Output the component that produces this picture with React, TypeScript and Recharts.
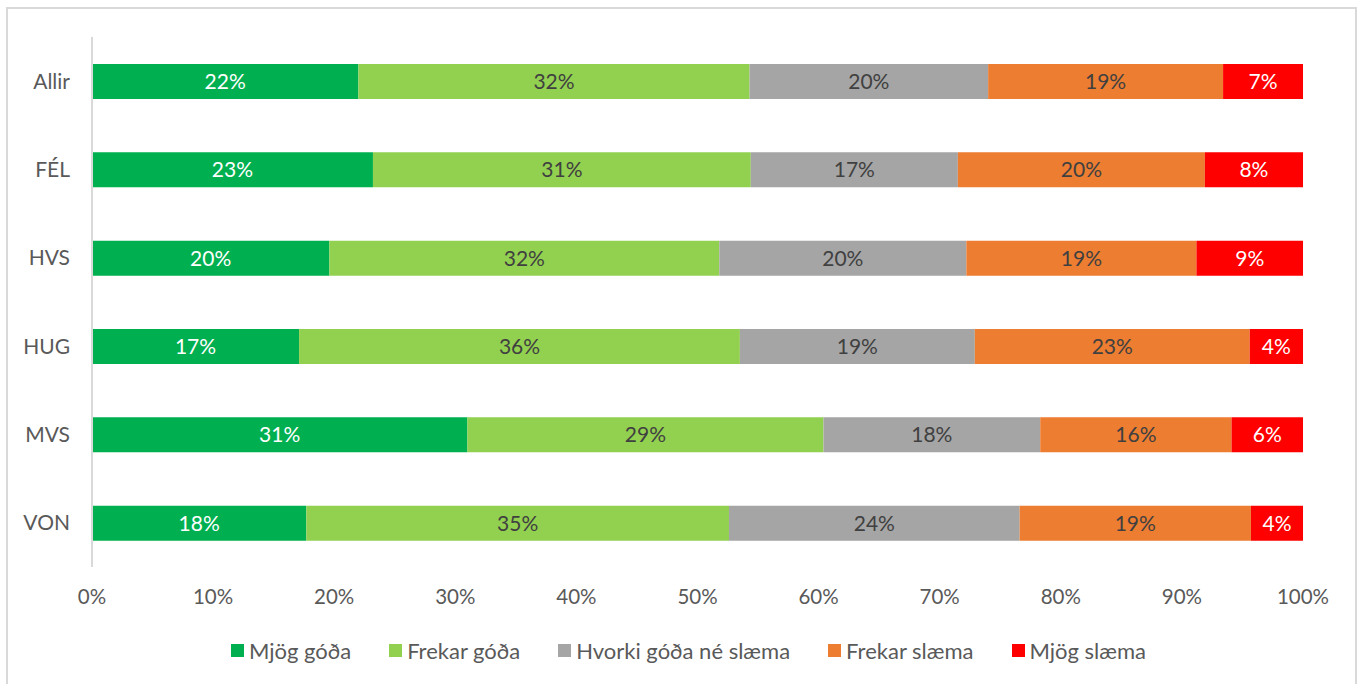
import React from 'react';
import { BarChart, Bar, XAxis, YAxis, Legend, LabelList } from 'recharts';

const categories = ['Allir', 'FÉL', 'HVS', 'HUG', 'MVS', 'VON'];
const mjogGoda = [22.0, 23.2, 19.6, 17.1, 31.0, 17.7];
const frekarGoda = [32.3, 31.2, 32.2, 36.4, 29.4, 34.9];
const hvorki = [19.7, 17.1, 20.4, 19.4, 17.9, 24.0];
const frekarSlaema = [19.4, 20.4, 19.0, 22.7, 15.8, 19.1];
const mjogSlaema = [6.6, 8.1, 8.8, 4.4, 5.9, 4.3];
const xTicks = [0, 10, 20, 30, 40, 50, 60, 70, 80, 90, 100];

const seriesNames = ['Mjög góða', 'Frekar góða', 'Hvorki góða né slæma', 'Frekar slæma', 'Mjög slæma'];
const seriesKeys = ['s1', 's2', 's3', 's4', 's5'];
const seriesColors = ['#00B050', '#92D050', '#A5A5A5', '#ED7D31', '#FF0000'];
const labelColors = ['#FFFFFF', '#404040', '#404040', '#404040', '#FFFFFF'];

const data = categories.map((c, i) => ({
  name: c,
  s1: mjogGoda[i],
  s2: frekarGoda[i],
  s3: hvorki[i],
  s4: frekarSlaema[i],
  s5: mjogSlaema[i],
}));

const FONT = 'Lato, "Open Sans", sans-serif';

const LegendContent = () => (
  <div style={{ display: 'flex', justifyContent: 'center', alignItems: 'center', fontFamily: FONT, fontSize: 22, color: '#595959', height: 40, paddingLeft: 74, boxSizing: 'border-box' }}>
    {seriesNames.map((n, i) => (
      <div key={n} style={{ display: 'flex', alignItems: 'center', marginRight: i < seriesNames.length - 1 ? 38 : 0 }}>
        <span style={{ display: 'inline-block', width: 13, height: 13, background: seriesColors[i], marginRight: 5 }} />
        <span>{n}</span>
      </div>
    ))}
  </div>
);

export default function App() {
  return (
    <div style={{ position: 'absolute', left: 0, top: 0, width: 1362, height: 684, overflow: 'hidden', background: '#fff' }}>
      <div style={{ position: 'absolute', left: 6, top: 7, width: 1351, height: 700, border: '2px solid #D9D9D9', boxSizing: 'border-box' }} />
      <div style={{ position: 'absolute', left: 0, top: 0 }}>
        <BarChart
          width={1362}
          height={684}
          data={data}
          layout="vertical"
          margin={{ top: 37, right: 59, bottom: 14, left: 0 }}
          barCategoryGap={0}
        >
          <XAxis
            type="number"
            domain={[0, 100]}
            ticks={xTicks}
            tickFormatter={(v: number) => `${v}%`}
            axisLine={false}
            tickLine={false}
            tickMargin={16}
            height={63}
            tick={{ fill: '#595959', fontSize: 20.5, fontFamily: FONT }}
            interval={0}
          />
          <YAxis
            type="category"
            dataKey="name"
            width={92}
            axisLine={{ stroke: '#D9D9D9', strokeWidth: 2 }}
            tickLine={false}
            tickMargin={16}
            tick={{ fill: '#595959', fontSize: 21, fontFamily: FONT }}
          />
          <Legend verticalAlign="bottom" height={40} content={<LegendContent />} />
          {seriesKeys.map((k, i) => (
            <Bar key={k} dataKey={k} name={seriesNames[i]} stackId="a" fill={seriesColors[i]} barSize={35} isAnimationActive={false}>
              <LabelList
                dataKey={k}
                position="center"
                formatter={(v: number) => `${Math.round(v)}%`}
                fill={labelColors[i]}
                style={{ fontSize: 21, fontFamily: FONT }}
              />
            </Bar>
          ))}
        </BarChart>
      </div>
    </div>
  );
}
